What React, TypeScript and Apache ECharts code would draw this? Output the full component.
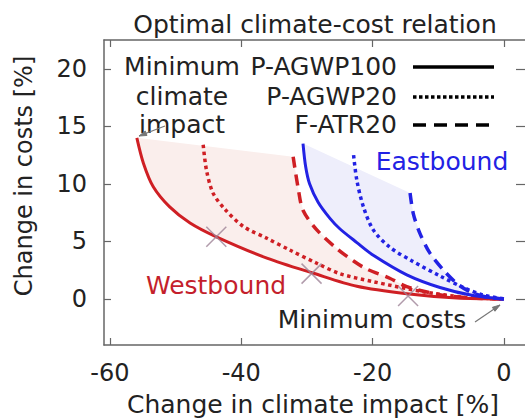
import React, { useEffect, useRef } from "react";
import * as echarts from "echarts";

// ---- data ----
const xTicks = [-60, -40, -20, 0];
const yTicks = [0, 5, 10, 15, 20];

const westSolid = [
  [-55.9, 14.0], [-54.9, 11.8], [-53.4, 9.75], [-50.9, 8.0], [-47.8, 6.6],
  [-43.8, 5.4], [-36.1, 3.55], [-29.0, 2.23], [-22.4, 1.1], [-14.8, 0.45],
  [-7.2, 0.08], [0, 0],
];
const westDotted = [
  [-45.8, 13.4], [-45.3, 11.2], [-44.3, 9.2], [-42.5, 7.8], [-39.7, 6.3],
  [-36.1, 5.27], [-32.6, 4.25], [-28.5, 3.1], [-25, 2.2], [-19.9, 1.5],
  [-12.3, 0.63], [-6, 0.15], [0, 0],
];
const westDashed = [
  [-32.1, 12.35], [-31.3, 9.5], [-30.6, 7.7], [-28.5, 6.0], [-25.5, 4.4],
  [-22.9, 3.3], [-20.9, 2.6], [-17.4, 1.8], [-14.8, 1.07], [-10, 0.4],
  [-5, 0.08], [0, 0],
];
const eastSolid = [
  [-30.6, 13.5], [-30.2, 11.5], [-29.6, 10.0], [-28.3, 8.4], [-26.5, 7.0],
  [-25, 6.1], [-22.4, 4.9], [-19.9, 3.8], [-14.8, 2.1], [-9.75, 1.0],
  [-4.7, 0.3], [0, 0],
];
const eastDotted = [
  [-22.9, 12.5], [-22.4, 10.3], [-21.4, 8.0], [-19.9, 6.0], [-17.4, 4.5],
  [-14.0, 3.3], [-9.75, 2.0], [-6.2, 1.0], [-3.2, 0.35], [0, 0],
];
const eastDashed = [
  [-14.3, 9.2], [-13.8, 7.4], [-12.8, 5.7], [-11.3, 4.0], [-9.2, 2.5],
  [-7.2, 1.36], [-5.2, 0.63], [-2.5, 0.15], [0, 0],
];
const westMarkers = [[-43.8, 5.4], [-29.3, 2.2], [-14.6, 0.25]];

const legendNames = ["P-AGWP100", "P-AGWP20", "F-ATR20"];

// ---- styles ----
const FONT = "'DejaVu Sans', sans-serif";
const RED = "#cf1f24";
const BLUE = "#2222e4";
const PINK_FILL = "#faeeec";
const BLUE_FILL = "#eeeefb";
const TXT = "#222";
const GREY = "#777";
const FRAME = "#666";

function arrow(x1: number, y1: number, x2: number, y2: number) {
  const a = Math.atan2(y2 - y1, x2 - x1);
  const s = 8, ang = 0.3;
  return [
    { type: "line", shape: { x1, y1, x2, y2 }, style: { stroke: GREY, lineWidth: 1.2 } },
    {
      type: "polygon",
      shape: {
        points: [
          [x2 - s * Math.cos(a - ang), y2 - s * Math.sin(a - ang)],
          [x2, y2],
          [x2 - s * Math.cos(a + ang), y2 - s * Math.sin(a + ang)],
        ],
      },
      style: { fill: GREY, stroke: GREY, lineWidth: 1 },
    },
  ];
}

function text(t: string, x: number, y: number, opts: any = {}) {
  return {
    type: "text",
    x,
    y,
    rotation: opts.rotation || 0,
    style: {
      text: t,
      fontSize: opts.size || 25,
      fontFamily: FONT,
      fill: opts.color || TXT,
      align: opts.align || "center",
      verticalAlign: "middle",
    },
  };
}

function fillSeries(lower: number[][], upper: number[][], color: string) {
  return {
    type: "custom",
    z: 1,
    silent: true,
    data: [[0, 0]],
    renderItem: (_p: any, api: any) => {
      const pts = lower.concat(upper.slice().reverse()).map((p) => api.coord(p));
      return { type: "polygon", shape: { points: pts }, style: { fill: color } };
    },
  };
}

function lineSeries(data: number[][], color: string, dash: any, width: number) {
  return {
    type: "line",
    data,
    z: 3,
    symbol: "none",
    smooth: 0.3,
    lineStyle: { color, width, type: dash, cap: "butt" },
  };
}

export default function App() {
  const ref = useRef<HTMLDivElement>(null);
  useEffect(() => {
    const chart = echarts.init(ref.current!, null, { renderer: "svg" });
    const legendRows = [66, 96, 124];
    const legendDash: any[] = ["solid", [3.5, 2.5], [13, 8]];
    const graphic: any[] = [
      text("Optimal climate-cost relation", 315, 24),
      text("Change in climate impact [%]", 313, 404),
      text("Change in costs [%]", 24, 176, { rotation: Math.PI / 2, size: 24 }),
      text("Minimum", 182, legendRows[0]),
      text("climate", 182, legendRows[1]),
      text("impact", 182, legendRows[2]),
      text("Westbound", 216, 285, { color: "#c41f2c" }),
      text("Eastbound", 442, 161, { color: BLUE }),
      text("Minimum costs", 372, 319),
      ...arrow(165, 126, 139, 136),
      ...arrow(475, 322, 500, 305),
    ];
    legendNames.forEach((n, i) => {
      graphic.push(text(n, 397, legendRows[i], { align: "right" }));
      graphic.push({
        type: "line",
        shape: { x1: 413, y1: legendRows[i] + 1, x2: 494, y2: legendRows[i] + 1 },
        style: { stroke: "#000", lineWidth: 3.5, lineDash: legendDash[i] === "solid" ? null : legendDash[i] },
      });
    });

    const axisLabelStyle = { fontSize: 24, fontFamily: FONT, color: TXT };
    const tick = (vals: number[], len = 7) => ({
      inside: true, length: len, customValues: vals, lineStyle: { color: FRAME, width: 1.2 },
    });
    const line = (show: boolean) => ({ show, onZero: false, lineStyle: { color: FRAME, width: 1.5 } });
    const X_MIN = -60.9, X_MAX = 3.2;
    chart.setOption({
      animation: false,
      grid: { left: 104, right: 0, top: 40, bottom: 74 },
      xAxis: [
        {
          type: "value", min: X_MIN, max: X_MAX, position: "bottom",
          axisLine: line(true), splitLine: { show: false },
          axisTick: tick(xTicks),
          axisLabel: { customValues: xTicks, margin: 16, ...axisLabelStyle },
        },
        {
          type: "value", min: X_MIN, max: X_MAX, position: "top",
          axisLine: line(true), splitLine: { show: false },
          axisTick: tick(xTicks),
          axisLabel: { show: false },
        },
      ],
      yAxis: [
        {
          type: "value", min: -4, max: 22.5, position: "left",
          axisLine: line(true), splitLine: { show: false },
          axisTick: tick(yTicks),
          axisLabel: { customValues: yTicks, margin: 17, ...axisLabelStyle },
        },
        {
          type: "value", min: -4, max: 22.5, position: "right",
          axisLine: line(false), splitLine: { show: false },
          axisTick: tick(yTicks, 9),
          axisLabel: { show: false },
        },
      ],
      series: [
        fillSeries(westSolid, westDashed, PINK_FILL),
        fillSeries(eastSolid, eastDashed, BLUE_FILL),
        lineSeries(westDashed, RED, [11, 7], 3.5),
        lineSeries(westDotted, RED, [3.5, 3.5], 3.5),
        lineSeries(westSolid, RED, "solid", 3),
        lineSeries(eastDashed, BLUE, [11, 7], 3.5),
        lineSeries(eastDotted, BLUE, [3.5, 3.5], 3.5),
        lineSeries(eastSolid, BLUE, "solid", 3),
        {
          type: "scatter",
          z: 4,
          data: westMarkers,
          symbol: "path://M0 0L10 10M10 0L0 10",
          symbolSize: 20,
          itemStyle: { color: "none", borderColor: "#9d8296", borderWidth: 1.5 },
        },
      ],
      graphic,
    });
    return () => chart.dispose();
  }, []);
  return (
    <div
      ref={ref}
      style={{ position: "fixed", left: 0, top: 0, width: 525, height: 419, background: "#fff" }}
    />
  );
}
